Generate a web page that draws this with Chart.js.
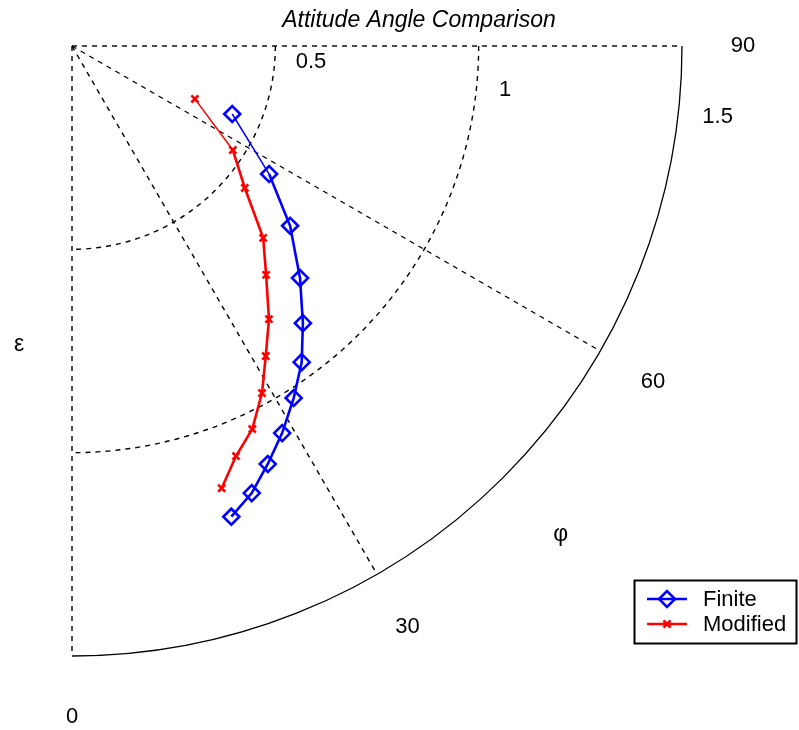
<!DOCTYPE html>
<html>
<head>
<meta charset="utf-8">
<script src="https://cdn.jsdelivr.net/npm/chart.js@4.4.1/dist/chart.umd.min.js"></script>
<style>
  html, body { margin: 0; padding: 0; background: #fff; overflow: hidden; }
  canvas { display: block; }
</style>
</head>
<body>
<canvas id="c" width="799" height="730"></canvas>
<script>
// Attitude angle (phi, degrees) against eccentricity ratio (epsilon)
const chartTitle = 'Attitude Angle Comparison';
const seriesNames = ['Finite', 'Modified'];
const finitePhi   = [67.0, 57.0, 50.5, 44.5, 39.8, 36.0, 32.2, 28.5, 25.1, 21.9, 18.7];
const finiteEps   = [0.428, 0.578, 0.695, 0.800, 0.887, 0.961, 1.023, 1.083, 1.135, 1.185, 1.222];
const modifiedPhi = [66.7, 57.1, 50.6, 44.9, 40.3, 35.8, 32.0, 28.7, 25.2, 21.8, 18.7];
const modifiedEps = [0.329, 0.471, 0.550, 0.666, 0.738, 0.828, 0.899, 0.973, 1.041, 1.086, 1.148];
const radialTicks = [0.5, 1, 1.5];
const angleTicks  = [0, 30, 60, 90];
const radialLabels = ['0.5', '1', '1.5'];
const angleLabels  = ['0', '30', '60', '90'];
const radialAxisName = 'ε';
const angleAxisName  = 'φ';

const DEG = Math.PI / 180;
// angle is measured from the downward direction towards the right
const toXY = (phi, r) => ({ x: r * Math.sin(phi * DEG), y: r * Math.cos(phi * DEG) });

const FONT = '"Liberation Sans", Arial, sans-serif';
const rMax = radialTicks[radialTicks.length - 1];

const polarFrame = {
  id: 'polarFrame',
  beforeDatasetsDraw(chart) {
    const { ctx, scales: { x, y } } = chart;
    const cx = x.getPixelForValue(0), cy = y.getPixelForValue(0);
    const rad = v => x.getPixelForValue(v) - cx;
    ctx.save();
    ctx.strokeStyle = '#000';
    ctx.lineWidth = 1.4;
    ctx.setLineDash([5, 5]);
    radialTicks.slice(0, -1).forEach(v => {
      ctx.beginPath();
      ctx.arc(cx, cy, rad(v), 0, Math.PI / 2);
      ctx.stroke();
    });
    angleTicks.forEach(a => {
      const p = toXY(a, rMax);
      ctx.beginPath();
      ctx.moveTo(cx, cy);
      ctx.lineTo(x.getPixelForValue(p.x), y.getPixelForValue(p.y));
      ctx.stroke();
    });
    ctx.setLineDash([]);
    ctx.lineWidth = 1.3;
    ctx.beginPath();
    ctx.arc(cx, cy, rad(rMax), 0, Math.PI / 2);
    ctx.stroke();
    ctx.restore();
  },
  afterDraw(chart) {
    const { ctx, scales: { x, y } } = chart;
    const px = v => x.getPixelForValue(v), py = v => y.getPixelForValue(v);
    ctx.save();
    ctx.fillStyle = '#000';
    ctx.font = '22px ' + FONT;
    ctx.textBaseline = 'middle';

    // radial tick labels
    ctx.textAlign = 'left';
    radialTicks.forEach((r, i) => {
      ctx.fillText(radialLabels[i], px(r + 0.05), py(0.039 + 0.136 * (r - 0.5)));
    });
    // angle tick labels
    ctx.textAlign = 'center';
    angleTicks.forEach((a, i) => {
      const p = toXY(a, rMax * 1.1);
      ctx.fillText(angleLabels[i], px(p.x), py(p.y));
    });
    // axis names
    ctx.font = '23px ' + FONT;
    ctx.fillText(radialAxisName, px(-0.13), py(0.735));
    const q = toXY(45, rMax * 1.133);
    ctx.fillText(angleAxisName, px(q.x), py(q.y));

    // title
    ctx.font = 'italic 23px ' + FONT;
    ctx.fillText(chartTitle, 419, 21);

    // legend
    const bx = 634.5, by = 580.5, bw = 162, bh = 63;
    ctx.fillStyle = '#fff';
    ctx.fillRect(bx, by, bw, bh);
    ctx.strokeStyle = '#000';
    ctx.lineWidth = 2;
    ctx.strokeRect(bx, by, bw, bh);
    ctx.font = '22px ' + FONT;
    ctx.textAlign = 'left';
    chart.data.datasets.forEach((ds, i) => {
      const ly = 599 + i * 25;
      ctx.strokeStyle = ds.borderColor;
      ctx.fillStyle = ds.pointBackgroundColor;
      ctx.lineWidth = 2.4;
      ctx.beginPath();
      ctx.moveTo(647, ly);
      ctx.lineTo(687, ly);
      ctx.stroke();
      ctx.lineWidth = ds.pointBorderWidth;
      Chart.helpers.drawPoint(ctx, {
        pointStyle: ds.pointStyle,
        radius: ds.pointRadius,
        borderWidth: ds.pointBorderWidth,
        rotation: 0
      }, 667, ly);
      ctx.fillStyle = '#000';
      ctx.fillText(ds.label, 703, ly + 1);
    });
    ctx.restore();
  }
};

const thinFirst = w => ({ borderWidth: c => (c.p0DataIndex === 0 ? 1.5 : w) });

new Chart(document.getElementById('c'), {
  type: 'scatter',
  data: {
    datasets: [
      {
        label: seriesNames[0],
        data: finitePhi.map((p, i) => toXY(p, finiteEps[i])),
        showLine: true,
        borderColor: '#0000ff',
        borderWidth: 2.6,
        segment: thinFirst(2.6),
        pointStyle: 'rectRot',
        pointRadius: 8,
        pointBorderWidth: 2.6,
        pointBorderColor: '#0000ff',
        pointBackgroundColor: 'rgba(0,0,0,0)'
      },
      {
        label: seriesNames[1],
        data: modifiedPhi.map((p, i) => toXY(p, modifiedEps[i])),
        showLine: true,
        borderColor: '#ff0000',
        borderWidth: 2.6,
        segment: thinFirst(2.6),
        pointStyle: 'crossRot',
        pointRadius: 5,
        pointBorderWidth: 2.6,
        pointBorderColor: '#ff0000',
        pointBackgroundColor: '#ff0000'
      }
    ]
  },
  options: {
    responsive: false,
    animation: false,
    devicePixelRatio: 1,
    layout: { padding: { left: 72, top: 46, right: 117, bottom: 74 } },
    plugins: { legend: { display: false }, title: { display: false }, tooltip: { enabled: false } },
    scales: {
      x: { type: 'linear', min: 0, max: rMax, display: false },
      y: { type: 'linear', min: 0, max: rMax, reverse: true, display: false }
    }
  },
  plugins: [polarFrame]
});
</script>
</body>
</html>
